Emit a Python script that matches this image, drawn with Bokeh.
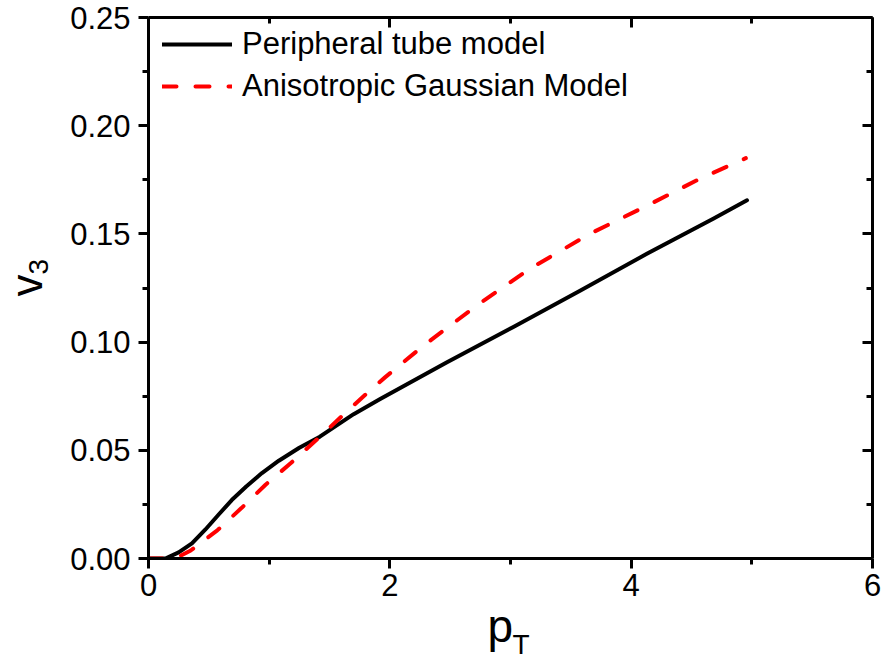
import math
from bokeh.plotting import figure
from bokeh.models import (Range1d, LinearAxis, FixedTicker, Legend, LegendItem,
                          Title, NumeralTickFormatter)
from bokeh.embed import file_html
from bokeh.resources import INLINE

# ---- data ----
tube_pt = [0, 0.10, 0.14, 0.25, 0.36, 0.47, 0.58, 0.69, 0.81, 0.94, 1.08, 1.25,
           1.42, 1.70, 1.92, 2.47, 3.02, 3.58, 4.13, 4.68, 4.96]
tube_v3 = [0, 0, 0, 0.0028, 0.0070, 0.0133, 0.0202, 0.0270, 0.0333, 0.0395, 0.0452,
           0.0512, 0.0563, 0.0667, 0.0737, 0.0906, 0.1069, 0.1238, 0.1408, 0.1570, 0.1655]

gauss_pt = [0, 0.18, 0.25, 0.35, 0.57, 0.77, 0.97, 1.18, 1.40, 1.62, 1.84, 1.96,
            2.28, 2.72, 3.16, 3.66, 4.13, 4.57, 4.95]
gauss_v3 = [0, 0, 0.0008, 0.0037, 0.0130, 0.0233, 0.0341, 0.0441, 0.0552, 0.0667,
            0.0779, 0.0837, 0.0984, 0.1169, 0.1339, 0.1501, 0.1630, 0.1755, 0.1850]

series_names = ["Peripheral tube model", "Anisotropic Gaussian Model"]
x_major = [0, 2, 4, 6]
x_minor = [1, 3, 5]
y_major = [0.0, 0.05, 0.10, 0.15, 0.20, 0.25]
y_minor = [0.025, 0.075, 0.125, 0.175, 0.225]

FONT = "Liberation Sans"

p = figure(width=883, height=660, output_backend="svg", toolbar_location=None,
           x_range=Range1d(0, 6), y_range=Range1d(0, 0.25),
           min_border_left=148, min_border_right=11, min_border_top=17,
           min_border_bottom=102)
p.outline_line_color = None
p.grid.visible = False
p.background_fill_color = "white"
p.border_fill_color = "white"

def style(ax, outward, show_labels):
    ax.axis_line_width = 3
    ax.axis_line_color = "black"
    ax.major_tick_line_width = 3
    ax.minor_tick_line_width = 3
    ax.major_tick_line_color = "black"
    ax.minor_tick_line_color = "black"
    if outward:
        ax.major_tick_out, ax.major_tick_in = 10, 0
        ax.minor_tick_out, ax.minor_tick_in = 6, 0
    else:
        ax.major_tick_out, ax.major_tick_in = 0, 10
        ax.minor_tick_out, ax.minor_tick_in = 0, 6
    if show_labels:
        ax.major_label_text_font = FONT
        ax.major_label_text_font_size = "31px"
        ax.major_label_text_color = "black"
    else:
        ax.major_label_text_font_size = "1px"
        ax.major_label_text_color = None
        ax.major_label_standoff = 0

bx = p.xaxis[0]
bx.ticker = FixedTicker(ticks=x_major, minor_ticks=x_minor)
style(bx, True, True)
bx.major_label_standoff = 5

ly = p.yaxis[0]
ly.ticker = FixedTicker(ticks=y_major, minor_ticks=y_minor)
ly.formatter = NumeralTickFormatter(format="0.00")
style(ly, True, True)
ly.major_label_standoff = 8

tx = LinearAxis(ticker=FixedTicker(ticks=x_major, minor_ticks=x_minor))
style(tx, False, False)
p.add_layout(tx, "above")

ry = LinearAxis(ticker=FixedTicker(ticks=y_major, minor_ticks=y_minor))
style(ry, False, False)
p.add_layout(ry, "right")

r1 = p.line(tube_pt, tube_v3, line_color="black", line_width=4, line_cap="round",
            line_join="round")
r2 = p.line(gauss_pt, gauss_v3, line_color="#ff0000", line_width=4, line_dash="14 19",
            line_cap="round", line_join="round")

legend = Legend(items=[LegendItem(label=series_names[0], renderers=[r1]),
                       LegendItem(label=series_names[1], renderers=[r2])],
                location=(14, 451), padding=0, margin=0, spacing=0,
                glyph_width=70, glyph_height=42, label_height=42,
                label_standoff=10, label_text_font=FONT,
                label_text_font_size="31px", label_text_color="black",
                border_line_color=None, background_fill_alpha=0)
p.add_layout(legend, "center")

# axis titles as side-panel titles (main text + subscript)
def ttl(text, side, offset, size, standoff, valign):
    p.add_layout(Title(text=text, align="left", offset=offset, vertical_align=valign,
                       standoff=standoff, text_font=FONT, text_font_size=size,
                       text_font_style="normal", text_color="black"), side)

ttl("p", "below", 339, "46px", 3, "top")
ttl("T", "below", 364, "28px", -54, "top")
ttl("3", "left", 284, "28px", 40, "bottom")
ttl("v", "left", 262, "44px", -89, "bottom")

open("out.html", "w").write(file_html(p, INLINE))
